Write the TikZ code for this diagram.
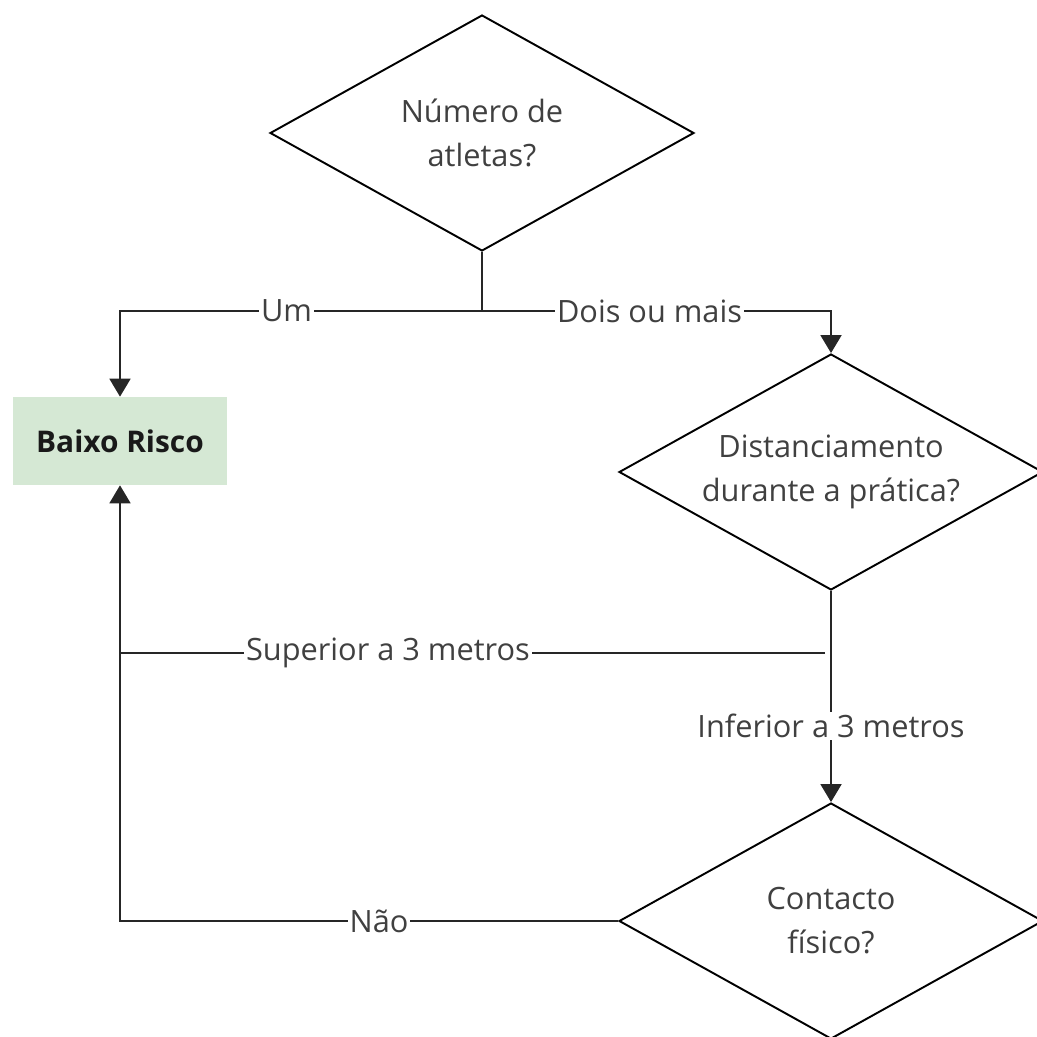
\documentclass[tikz,border=0pt]{standalone}
\usepackage{fontspec}
\setmainfont{Open Sans}
\usepackage{xcolor}
\usetikzlibrary{arrows.meta,positioning,shapes.geometric}

\definecolor{riscoverde}{HTML}{D5E8D4}

\begin{document}
\begin{tikzpicture}[
    x=0.02cm, y=-0.02cm,
    decision/.style={draw, diamond, minimum width=8.48cm, minimum height=4.72cm, inner xsep=-1.5cm, inner ysep=0pt, align=center, line width=1.1pt, text=black!75, font=\fontsize{17.5}{25}\selectfont},
    result/.style={fill=riscoverde, minimum width=4.3cm, minimum height=1.76cm, font=\fontsize{17}{25}\selectfont\bfseries, text=black!90},
    lbl/.style={fill=white, inner sep=1pt, text=black!75, font=\fontsize{17.5}{25}\selectfont},
    arrow/.style={-{Triangle[width=0.42cm, length=0.36cm]}, line width=1.1pt, black!85},
    link/.style={line width=1.1pt, black!85}
]
    \useasboundingbox (0,0) rectangle (1037,1037);

    \node[decision] (atletas) at (482,133) {Número de\\atletas?};
    \node[result] (risco) at (120,441) {Baixo Risco};
    \node[decision] (distancia) at (831,472) {Distanciamento\\durante a prática?};
    \node[decision] (contacto) at (831,921) {Contacto\\físico?};

    \coordinate (fork) at (482,311);
    \coordinate (split) at (825,653);
    \coordinate (join) at (120,653);

    % Number of athletes
    \draw[link] (atletas.south) -- (fork);
    \draw[arrow] (fork) -| node[lbl, pos=0.27] {Um} (risco.north);
    \draw[arrow] (fork) -| node[lbl, pos=0.24] {Dois ou mais} (distancia.north);

    % Distance
    \draw[arrow] (distancia.south) -- node[lbl, pos=0.64] {Inferior a 3 metros} (contacto.north);
    \draw[arrow] (split) -| node[lbl, pos=0.31] {Superior a 3 metros} (risco.south);

    % Contact
    \draw[link] (contacto.west) -| node[lbl, pos=0.24] {Não} (join);
\end{tikzpicture}
\end{document}
